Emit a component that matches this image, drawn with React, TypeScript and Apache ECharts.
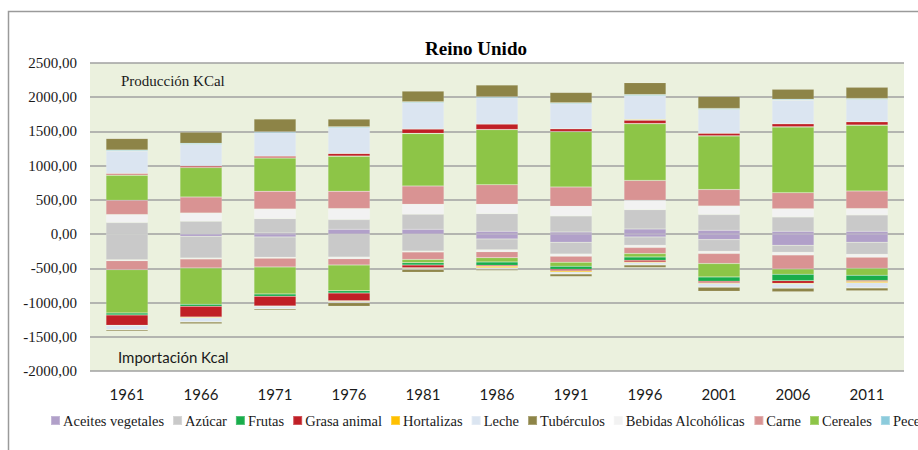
import React, { useEffect, useRef } from "react";
import * as echarts from "echarts";

const years = ["1961", "1966", "1971", "1976", "1981", "1986", "1991", "1996", "2001", "2006", "2011"];

// Producción (kcal, positive)
const prodAceites = [0, 0, 17, 71, 71, 41, 32, 75, 56, 41, 41];
const prodAzucar = [168, 187, 209, 141, 219, 258, 234, 282, 229, 209, 239];
const prodBebidas = [117, 122, 141, 161, 146, 136, 141, 136, 127, 122, 93];
const prodCarne = [209, 234, 258, 253, 268, 287, 282, 292, 239, 234, 258];
const prodCereales = [365, 429, 487, 511, 765, 804, 808, 828, 784, 959, 959];
const prodFrutas = [8, 3, 3, 3, 3, 3, 3, 3, 3, 3, 3];
const prodGrasa = [20, 19, 24, 39, 63, 78, 39, 49, 34, 44, 49];
const prodHortalizas = [0, 0, 0, 0, 0, 0, 0, 8, 0, 0, 0];
const prodLeche = [326, 317, 341, 375, 384, 385, 365, 350, 350, 345, 326];
const prodPeces = [15, 15, 15, 15, 15, 15, 15, 15, 15, 15, 15];
const prodTuberculos = [170, 161, 185, 112, 156, 170, 151, 175, 175, 146, 161];

// Importación (kcal, negative)
const impAceites = [0, -32, -41, 0, 0, -71, -119, -41, -80, -163, -119];
const impAzucar = [-373, -317, -297, -336, -248, -156, -170, -122, -170, -102, -175];
const impBebidas = [-15, -15, -15, -24, -15, -29, -34, -34, -34, -39, -44];
const impCarne = [-131, -131, -127, -93, -107, -88, -88, -88, -146, -205, -161];
const impCereales = [-633, -531, -394, -375, -49, -63, -58, -49, -195, -78, -102];
const impFrutas = [-29, -29, -34, -34, -34, -49, -44, -49, -63, -93, -78];
const impGrasa = [-151, -156, -141, -112, -39, -15, -24, -24, -24, -39, -15];
const impHortalizas = [-5, -10, -10, -10, -10, -19, -15, -10, -10, -10, -15];
const impLeche = [-58, -58, -29, -15, -10, -19, -24, -30, -49, -58, -73];
const impPeces = [-5, -5, -5, -5, -5, -5, -5, -5, -5, -5, -5];
const impTuberculos = [-19, -24, -19, -49, -39, -19, -39, -34, -58, -49, -39];

const yTicks = [-2000, -1500, -1000, -500, 0, 500, 1000, 1500, 2000, 2500];

const legendOrder = [
  "Aceites vegetales", "Azúcar", "Frutas", "Grasa animal", "Hortalizas", "Leche",
  "Tubérculos", "Bebidas Alcohólicas", "Carne", "Cereales", "Peces",
];

// stacking order (from zero outwards)
const foods = [
  { name: "Aceites vegetales", color: "#b1a0c9", prod: prodAceites, imp: impAceites },
  { name: "Azúcar", color: "#c9c9c9", prod: prodAzucar, imp: impAzucar },
  { name: "Bebidas Alcohólicas", color: "#f2f2f2", prod: prodBebidas, imp: impBebidas },
  { name: "Carne", color: "#d99393", prod: prodCarne, imp: impCarne },
  { name: "Cereales", color: "#8dc547", prod: prodCereales, imp: impCereales },
  { name: "Frutas", color: "#18ad4b", prod: prodFrutas, imp: impFrutas },
  { name: "Grasa animal", color: "#c01f26", prod: prodGrasa, imp: impGrasa },
  { name: "Hortalizas", color: "#ffc000", prod: prodHortalizas, imp: impHortalizas },
  { name: "Leche", color: "#dbe5f1", prod: prodLeche, imp: impLeche },
  { name: "Peces", color: "#8ccbdc", prod: prodPeces, imp: impPeces },
  { name: "Tubérculos", color: "#8d8447", prod: prodTuberculos, imp: impTuberculos },
];

const SERIF = "'Liberation Serif', 'Times New Roman', 'DejaVu Serif', serif";
const SANS = "Lato, 'Open Sans', sans-serif";

const fmt = (v: number) => v.toFixed(2).replace(".", ",");

export default function App() {
  const ref = useRef<HTMLDivElement>(null);
  useEffect(() => {
    if (!ref.current) return;
    const chart = echarts.init(ref.current, null, { renderer: "svg" });
    const mk = (f: any, data: number[]) => ({
      name: f.name,
      type: "bar",
      stack: "total",
      barWidth: 42,
      data,
      itemStyle: { color: f.color, borderColor: "rgba(255,255,255,0.25)", borderWidth: 0.5 },
      emphasis: { disabled: true },
    });
    const series = [
      ...foods.map((f) => mk(f, f.prod)),
      ...foods.map((f) => mk(f, f.imp)),
    ];
    chart.setOption({
      animation: false,
      backgroundColor: "#ffffff",
      title: {
        text: "Reino Unido",
        left: 471,
        textAlign: "center",
        top: 34,
        textStyle: { fontFamily: SERIF, fontSize: 19, fontWeight: "bold", color: "#000" },
      },
      grid: {
        left: 90,
        top: 63,
        right: 14,
        bottom: 79,
        show: true,
        backgroundColor: "#ebf1de",
        borderWidth: 0,
      },
      legend: {
        data: legendOrder,
        left: 50,
        top: 413,
        width: 3000,
        padding: 0,
        itemWidth: 9,
        itemHeight: 9,
        itemGap: 8,
        icon: "rect",
        textStyle: { fontFamily: SERIF, fontSize: 14.5, color: "#1a1a1a", padding: [0, 0, 0, -2] },
      },
      xAxis: {
        type: "category",
        data: years,
        axisLine: { show: false },
        axisTick: { show: false },
        axisLabel: { margin: 15, fontFamily: SANS, fontSize: 15, color: "#1a1a1a" },
      },
      yAxis: {
        type: "value",
        min: yTicks[0],
        max: yTicks[yTicks.length - 1],
        interval: 500,
        axisLine: { show: false },
        axisTick: { show: false },
        axisLabel: { margin: 13, fontFamily: SERIF, fontSize: 15, color: "#1a1a1a", formatter: (v: number) => fmt(v) },
        splitLine: { lineStyle: { color: "#a0a0a0", width: 1.5 } },
      },
      graphic: [
        {
          type: "rect",
          shape: { x: 8.5, y: 11.5, width: 1200, height: 1200 },
          style: { fill: "none", stroke: "#9a9a9a", lineWidth: 1.5 },
          silent: true,
          z: 100,
        },
        {
          type: "text",
          left: 121,
          top: 73,
          style: { text: "Producción KCal", font: "15px " + SERIF, fill: "#1a1a1a" },
          z: 100,
        },
        {
          type: "text",
          left: 118,
          top: 349,
          style: { text: "Importación Kcal", font: "15px " + SANS, fill: "#1a1a1a" },
          z: 100,
        },
      ],
      series,
    });
    return () => chart.dispose();
  }, []);
  return <div ref={ref} style={{ position: "fixed", left: 0, top: 0, width: 918, height: 450 }} />;
}
